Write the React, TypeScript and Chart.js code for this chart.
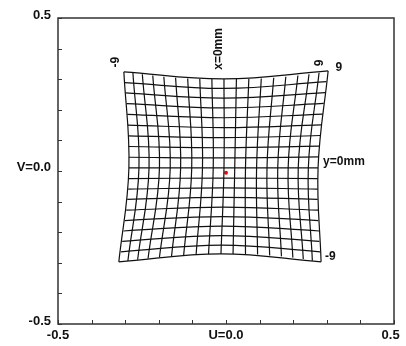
import React, { useEffect, useRef } from "react";
import { Chart, registerables } from "chart.js";

Chart.register(...registerables);

// Grid node rows (vertical lines i = -9..9): top edge, middle row, bottom edge
const topU = [-0.304, -0.277, -0.249, -0.218, -0.185, -0.150, -0.114, -0.078, -0.042, -0.006, 0.031, 0.068, 0.105, 0.142, 0.178, 0.214, 0.247, 0.277, 0.304];
const topV = [0.324, 0.320, 0.316, 0.312, 0.308, 0.305, 0.302, 0.301, 0.301, 0.301, 0.301, 0.301, 0.302, 0.305, 0.308, 0.312, 0.316, 0.321, 0.327];
const midU = [-0.289, -0.259, -0.229, -0.198, -0.166, -0.135, -0.102, -0.070, -0.038, -0.006, 0.026, 0.058, 0.091, 0.122, 0.154, 0.185, 0.215, 0.245, 0.274];
const midV = [0.010, 0.011, 0.011, 0.011, 0.010, 0.010, 0.010, 0.010, 0.010, 0.010, 0.010, 0.010, 0.010, 0.010, 0.011, 0.011, 0.011, 0.010, 0.010];
const botU = [-0.319, -0.292, -0.263, -0.232, -0.198, -0.162, -0.126, -0.089, -0.052, -0.015, 0.021, 0.058, 0.094, 0.130, 0.165, 0.199, 0.230, 0.257, 0.283];
const botV = [-0.297, -0.294, -0.290, -0.286, -0.282, -0.278, -0.275, -0.273, -0.272, -0.271, -0.271, -0.272, -0.273, -0.276, -0.279, -0.283, -0.288, -0.293, -0.297];

// Grid node columns (horizontal lines j = 9..-9): left edge, middle column, right edge
const leftU = [-0.304, -0.301, -0.299, -0.296, -0.294, -0.293, -0.291, -0.290, -0.289, -0.289, -0.290, -0.291, -0.294, -0.297, -0.301, -0.305, -0.309, -0.313, -0.319];
const leftV = [0.324, 0.289, 0.255, 0.220, 0.185, 0.150, 0.115, 0.080, 0.045, 0.010, -0.025, -0.059, -0.093, -0.128, -0.162, -0.196, -0.230, -0.264, -0.297];
const colMidU = [-0.006, -0.006, -0.006, -0.006, -0.006, -0.006, -0.006, -0.006, -0.006, -0.006, -0.007, -0.007, -0.008, -0.009, -0.010, -0.011, -0.012, -0.013, -0.015];
const colMidV = [0.301, 0.270, 0.238, 0.206, 0.174, 0.142, 0.109, 0.076, 0.043, 0.010, -0.023, -0.055, -0.086, -0.118, -0.149, -0.180, -0.211, -0.242, -0.271];
const rightU = [0.304, 0.299, 0.295, 0.291, 0.288, 0.284, 0.281, 0.278, 0.276, 0.274, 0.273, 0.273, 0.273, 0.274, 0.275, 0.277, 0.278, 0.280, 0.283];
const rightV = [0.327, 0.292, 0.256, 0.221, 0.186, 0.151, 0.116, 0.081, 0.046, 0.010, -0.025, -0.059, -0.093, -0.128, -0.162, -0.196, -0.230, -0.264, -0.297];

// Chief ray point
const centerPoint = { x: 0.0, y: -0.006 };

// Axis ticks
const tickValues = [-0.5, -0.4, -0.3, -0.2, -0.1, 0, 0.1, 0.2, 0.3, 0.4, 0.5];
const xAxisLabels = [
  { v: -0.5, text: "-0.5" },
  { v: 0.0, text: "U=0.0" },
  { v: 0.49, text: "0.5" },
];
const yAxisLabels = [
  { v: 0.51, text: "0.5" },
  { v: 0.012, text: "V=0.0" },
  { v: -0.49, text: "-0.5" },
];

// Annotations on grid
const notes = [
  { u: -0.327, v: 0.356, text: "-9", rot: true, align: "center" },
  { u: -0.021, v: 0.399, text: "x=0mm", rot: true, align: "center" },
  { u: 0.280, v: 0.353, text: "9", rot: true, align: "center" },
  { u: 0.326, v: 0.337, text: "9", rot: false, align: "left" },
  { u: 0.289, v: 0.029, text: "y=0mm", rot: false, align: "left" },
  { u: 0.295, v: -0.281, text: "-9", rot: false, align: "left" },
];

const FONT = "bold 12px 'Liberation Sans', Arial, sans-serif";
const AXIS_FONT = "bold 13px 'Liberation Sans', Arial, sans-serif";

const decorPlugin = {
  id: "decor",
  afterDraw(chart: any) {
    const { ctx, chartArea: a, scales } = chart;
    const xs = scales.x;
    const ys = scales.y;
    ctx.save();
    ctx.strokeStyle = "#333";
    ctx.lineWidth = 1.5;
    ctx.strokeRect(a.left, a.top, a.right - a.left, a.bottom - a.top);
    ctx.lineWidth = 1;
    ctx.beginPath();
    tickValues.forEach((t) => {
      const py = Math.round(ys.getPixelForValue(t)) + 0.5;
      ctx.moveTo(a.left, py);
      ctx.lineTo(a.left + 4, py);
      const px = Math.round(xs.getPixelForValue(t)) + 0.5;
      ctx.moveTo(px, a.bottom);
      ctx.lineTo(px, a.bottom - 4);
    });
    ctx.stroke();

    ctx.fillStyle = "#111";
    ctx.font = AXIS_FONT;
    ctx.textBaseline = "middle";
    ctx.textAlign = "right";
    yAxisLabels.forEach((l) => {
      ctx.fillText(l.text, a.left - 7, ys.getPixelForValue(l.v));
    });
    ctx.textAlign = "center";
    xAxisLabels.forEach((l) => {
      ctx.fillText(l.text, xs.getPixelForValue(l.v), a.bottom + 11);
    });
    ctx.font = FONT;
    notes.forEach((n) => {
      const px = xs.getPixelForValue(n.u);
      const py = ys.getPixelForValue(n.v);
      ctx.save();
      ctx.translate(px, py);
      if (n.rot) ctx.rotate(-Math.PI / 2);
      ctx.textAlign = n.align as CanvasTextAlign;
      ctx.fillText(n.text, 0, 0);
      ctx.restore();
    });
    ctx.restore();
  },
};

export default function App() {
  const ref = useRef<HTMLCanvasElement | null>(null);
  useEffect(() => {
    if (!ref.current) return;
    const datasets: any[] = [];
    for (let i = 0; i < topU.length; i++) {
      datasets.push({
        data: [
          { x: topU[i], y: topV[i] },
          { x: midU[i], y: midV[i] },
          { x: botU[i], y: botV[i] },
        ],
        showLine: true,
        borderColor: "#111",
        borderWidth: 1.2,
        pointRadius: 0,
        tension: 0.4,
      });
    }
    for (let j = 0; j < leftU.length; j++) {
      datasets.push({
        data: [
          { x: leftU[j], y: leftV[j] },
          { x: colMidU[j], y: colMidV[j] },
          { x: rightU[j], y: rightV[j] },
        ],
        showLine: true,
        borderColor: "#111",
        borderWidth: 1.2,
        pointRadius: 0,
        tension: 0.4,
      });
    }
    datasets.push({
      data: [centerPoint],
      showLine: false,
      pointRadius: 2,
      pointBackgroundColor: "#ff0000",
      pointBorderColor: "#ff0000",
      pointBorderWidth: 0,
    });
    const chart = new Chart(ref.current, {
      type: "scatter",
      data: { datasets },
      options: {
        animation: false,
        responsive: false,
        maintainAspectRatio: false,
        layout: { padding: { left: 58, top: 18, right: 12, bottom: 22 } },
        plugins: { legend: { display: false }, tooltip: { enabled: false } },
        scales: {
          x: { type: "linear", min: -0.5, max: 0.5, display: false },
          y: { type: "linear", min: -0.5, max: 0.5, display: false },
        },
      },
      plugins: [decorPlugin],
    });
    return () => chart.destroy();
  }, []);
  return (
    <div style={{ position: "absolute", left: 0, top: 0, width: 406, height: 346, background: "#fff" }}>
      <canvas ref={ref} width={406} height={346} style={{ width: 406, height: 346 }} />
    </div>
  );
}
